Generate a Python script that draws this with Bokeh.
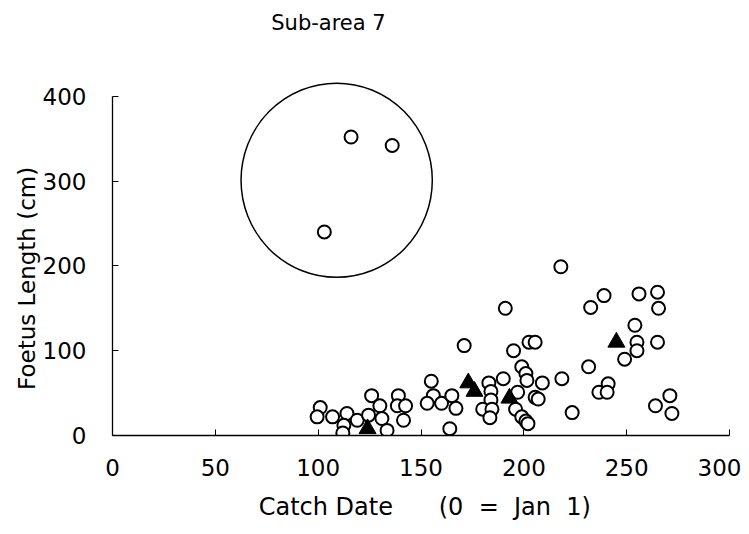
from bokeh.plotting import figure
from bokeh.models import ColumnDataSource, Range1d, FixedTicker, Label
from bokeh.embed import file_html
from bokeh.resources import INLINE

# Open circles: catch date (day of year) and foetus length (cm)
circle_date = [103, 116, 136,
               101, 99.5, 107, 114, 112.5, 112, 119, 124.5, 126, 130, 131, 133.5,
               139, 138.5, 142.5, 141.5, 155, 156, 153, 160, 165, 167, 164,
               171, 183, 184, 184, 180, 184.5, 183.5, 190, 195, 191,
               202.5, 205.5, 199, 201, 201.5, 209, 218.5, 197, 205.5, 207,
               196, 199, 201, 202, 218, 223.5, 232.5, 239, 231.5, 236.5,
               241, 240.5, 256, 265, 265.5, 254, 255, 255, 265, 249,
               264, 271, 272]
circle_length = [240, 352, 342,
                 33, 22, 22, 26, 12, 3, 18, 24, 47, 35, 20, 6,
                 47, 35, 35, 18, 64, 47, 38, 38, 47, 32, 8,
                 106, 62, 52, 42, 31, 31, 21, 67, 100, 150,
                 110, 110, 81, 73, 65, 62, 67, 51, 45, 43,
                 31, 22, 17, 14, 199, 27, 151, 165, 81, 51,
                 61, 51, 167, 169, 150, 130, 110, 100, 110, 90,
                 35, 47, 26]

# Filled triangles
tri_date = [124, 173, 176, 193, 245]
tri_length = [8, 62, 52, 44, 110]

# Highlight ellipse around the outliers
ring_x = [109]
ring_y = [301]
ring_w = [93]
ring_h = [229]

x_ticks = [0, 50, 100, 150, 200, 250, 300]
y_ticks = [0, 100, 200, 300, 400]

TITLE = "Sub-area 7"
FONT = "DejaVu Sans"
NB = "\u00a0"

p = figure(width=741, height=526, output_backend="svg", toolbar_location=None,
           x_range=Range1d(0, 300), y_range=Range1d(0, 500),
           min_border_left=112, min_border_right=12,
           min_border_top=11, min_border_bottom=91)

p.outline_line_color = None
p.xgrid.grid_line_color = None
p.ygrid.grid_line_color = None
p.background_fill_color = "white"
p.border_fill_color = "white"

for ax in (p.xaxis[0], p.yaxis[0]):
    ax.axis_line_color = "black"
    ax.axis_line_width = 1.3
    ax.major_tick_line_color = "black"
    ax.major_tick_in = 6
    ax.major_tick_out = 0
    ax.minor_tick_line_color = None
    ax.major_label_text_font = FONT
    ax.major_label_text_font_size = "23px"
    ax.major_label_text_color = "black"
    ax.axis_label_text_font = FONT
    ax.axis_label_text_font_style = "normal"
    ax.axis_label_text_color = "black"

p.yaxis.bounds = (0, 400)
p.xaxis.axis_label_text_font_size = "24px"
p.yaxis.axis_label_text_font_size = "23px"
p.xaxis.ticker = FixedTicker(ticks=x_ticks)
p.yaxis.ticker = FixedTicker(ticks=y_ticks)
p.xaxis.major_label_standoff = 23
p.yaxis.major_label_standoff = 26
p.xaxis.axis_label = NB + "Catch Date" + NB * 6 + "(0" + NB * 2 + "=" + NB * 2 + "Jan" + NB * 2 + "1)"
p.yaxis.axis_label = "Foetus Length (cm)" + NB * 15
p.xaxis.axis_label_standoff = 14
p.yaxis.axis_label_standoff = 0

p.add_layout(Label(x=105, y=487, text=TITLE, text_align="center",
                   text_baseline="middle", text_font=FONT,
                   text_font_size="21px", text_color="black"))

p.ellipse(x=ring_x, y=ring_y, width=ring_w, height=ring_h,
          fill_color=None, line_color="black", line_width=1.5)

src_c = ColumnDataSource(dict(x=circle_date, y=circle_length))
p.scatter("x", "y", source=src_c, marker="circle", size=13,
          fill_color="white", line_color="black", line_width=2)

src_t = ColumnDataSource(dict(x=tri_date, y=tri_length))
p.scatter("x", "y", source=src_t, marker="triangle", size=17,
          fill_color="black", line_color="black", line_width=1)

open("out.html", "w").write(file_html(p, INLINE))
